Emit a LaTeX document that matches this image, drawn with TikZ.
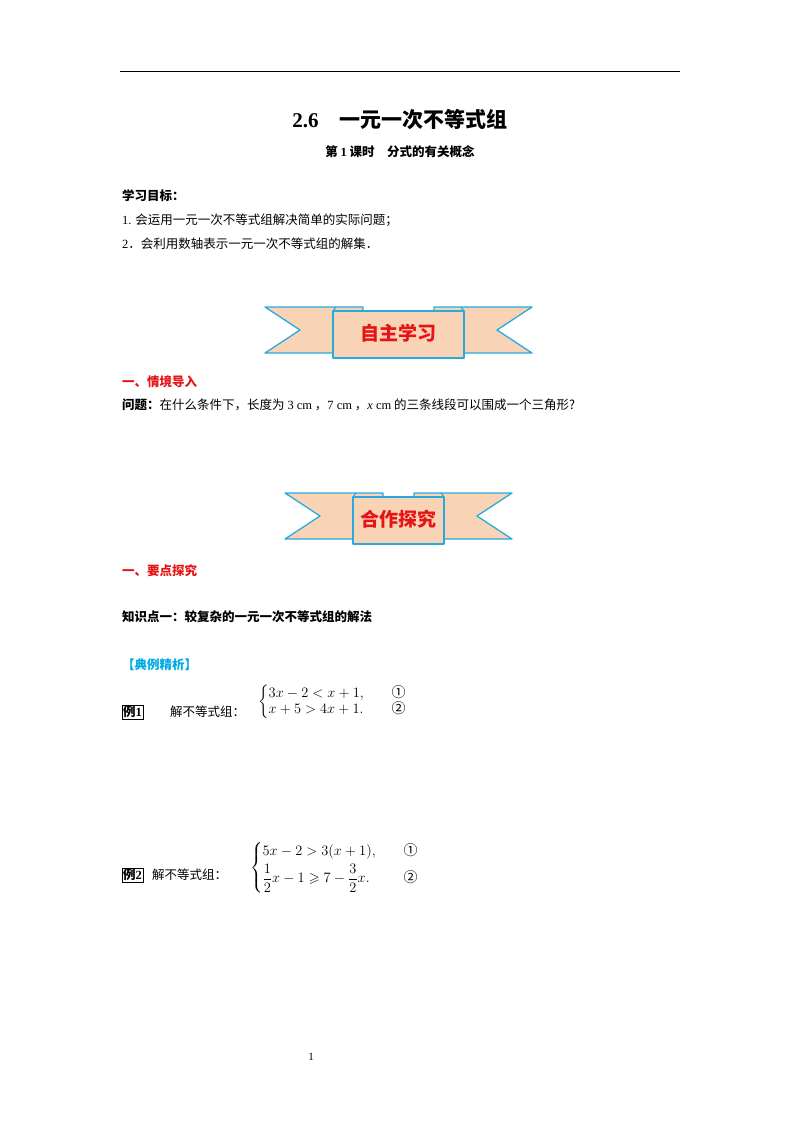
\documentclass[tikz,border=0pt]{standalone}
\usepackage{fontspec}
\usepackage{amsmath,amssymb}
\setmainfont{Liberation Serif}
\newfontfamily\cjk{Noto Sans CJK SC}
\definecolor{peach}{RGB}{249,211,182}
\definecolor{bcyan}{RGB}{40,170,222}
\definecolor{hred}{RGB}{230,20,20}
\definecolor{hblue}{RGB}{0,170,230}
\tikzset{
  txt/.style={anchor=west,inner sep=0pt,font=\fontsize{12.5}{14}\selectfont\cjk},
  btxt/.style={txt,font=\fontsize{12.5}{14}\selectfont\cjk\bfseries},
  rtxt/.style={btxt,text=hred},
  ribbon/.style={fill=peach,draw=bcyan,line width=1.3pt,line join=round},
  bannertext/.style={font=\fontsize{19}{22}\selectfont\cjk\bfseries,text=hred}
}
\newcommand{\mkbanner}[5]{% name, x0, x1, ytop, text
  \pgfmathsetmacro{\L}{#2}\pgfmathsetmacro{\R}{#3}\pgfmathsetmacro{\T}{#4}
  \pgfmathsetmacro{\B}{\T+46}\pgfmathsetmacro{\M}{\T+23}
  \pgfmathsetmacro{\FL}{\L+68}\pgfmathsetmacro{\FR}{\R-68}
  \draw[ribbon] (\L,\T) -- (\FL+30,\T) -- (\FL+30,\B) -- (\L,\B) -- (\L+35,\M) -- cycle;
  \draw[ribbon] (\R,\T) -- (\FR-30,\T) -- (\FR-30,\B) -- (\R,\B) -- (\R-35,\M) -- cycle;
  \draw[ribbon] (\FL,\T+4) rectangle (\FR,\B+5);
  \draw[bcyan,line width=1.1pt] (\FL,\T+4) -- (\FL+3,\T) (\FR,\T+4) -- (\FR-3,\T);
  \node[bannertext] (#1) at ({(\L+\R)/2},\M+3) {#5};
}
\begin{document}
\begin{tikzpicture}[x=1pt,y=-1pt]
\useasboundingbox (0,0) rectangle (800,1132);
\fill[white] (0,0) rectangle (800,1132);
\draw[line width=1pt] (120,72) coordinate (rl) -- (680,72) coordinate (rr);
\node[font=\fontsize{21}{24}\selectfont\bfseries] (title) at (400,120) {2.6\quad{\cjk 一元一次不等式组}};
\node[font=\fontsize{12.5}{14}\selectfont\cjk\bfseries] (sub) at (400,152) {第 {\rmfamily 1} 课时\quad 分式的有关概念};
\node[btxt] (goal) at (122,196) {学习目标：};
\node[txt] (g1) at (122,220) {{\rmfamily 1.} 会运用一元一次不等式组解决简单的实际问题；};
\node[txt] (g2) at (122,244) {{\rmfamily 2}．会利用数轴表示一元一次不等式组的解集．};
\mkbanner{b1}{265}{532}{307}{自主学习}
\node[rtxt] (s1) at (122,382) {一、情境导入};
\node[txt] (q) at (122,405) {{\bfseries 问题：}在什么条件下，长度为 {\rmfamily 3 cm} ，{\rmfamily 7 cm} ，{\rmfamily\textit{x} cm} 的三条线段可以围成一个三角形?};
\mkbanner{b2}{285}{512}{493}{合作探究}
\node[rtxt] (s2) at (122,571) {一、要点探究};
\node[btxt] (k1) at (122,617) {知识点一：较复杂的一元一次不等式组的解法};
\node[btxt,text=hblue] (dl) at (122,665) {【典例精析】};
\node[btxt,draw,inner sep=1pt] (e1) at (122,712) {例{\rmfamily 1}};
\node[txt] (e1t) at (170,712) {解不等式组：};
\node[anchor=west,inner sep=0pt,font=\fontsize{14}{16}\selectfont] (s1sys) at (258,702)
  {$\left\{\begin{array}{@{}l@{\qquad}l}3x-2<x+1, & \text{\cjk ①}\\ x+5>4x+1. & \text{\cjk ②}\end{array}\right.$};
\node[btxt,draw,inner sep=1pt] (e2) at (122,875) {例{\rmfamily 2}};
\node[txt] (e2t) at (152,875) {解不等式组：};
\node[anchor=west,inner sep=0pt,font=\fontsize{14}{16}\selectfont] (s2sys) at (250,868)
  {$\left\{\begin{array}{@{}l@{\qquad}l}5x-2>3(x+1), & \text{\cjk ①}\\[4pt] \dfrac12x-1\geqslant 7-\dfrac32x. & \text{\cjk ②}\end{array}\right.$};
\node[font=\fontsize{11}{13}\selectfont] (pg) at (311,1057) {1};
\end{tikzpicture}
\end{document}
